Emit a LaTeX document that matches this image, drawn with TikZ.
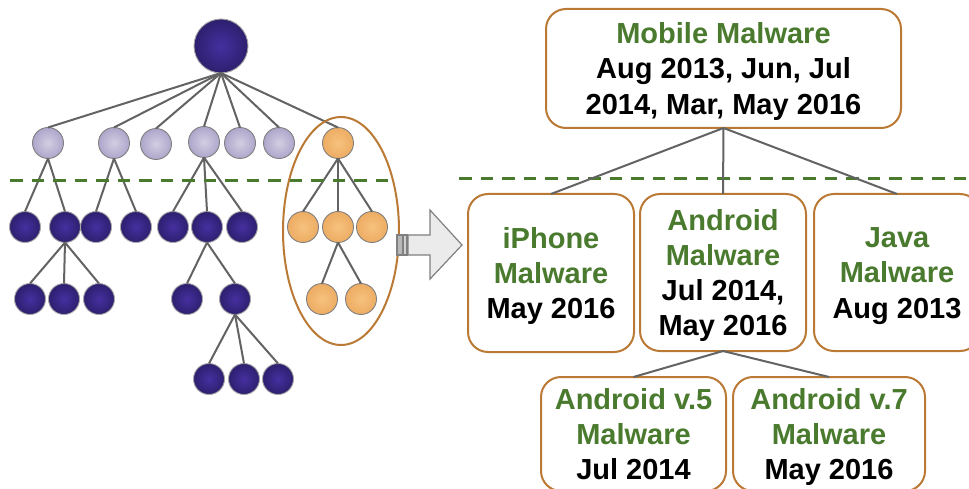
\documentclass[tikz,border=0pt]{standalone}
\usepackage{fontspec}
\setmainfont{Liberation Sans}
\definecolor{boxline}{HTML}{BA7A35}
\definecolor{grn}{HTML}{4A7A2E}
\definecolor{edgegrey}{HTML}{636363}
\definecolor{HTML4530A0}{HTML}{4530A0}
\definecolor{HTML2E1F6E}{HTML}{2E1F6E}
\definecolor{HTMLD2CEE2}{HTML}{D2CEE2}
\definecolor{HTMLAEA6CB}{HTML}{AEA6CB}
\definecolor{HTMLF6C27E}{HTML}{F6C27E}
\definecolor{HTMLEDAC63}{HTML}{EDAC63}
\tikzset{
 x=1pt,y=-1pt,
 ball/.style={circle,inner sep=0pt,outer sep=0pt,minimum size=31pt,draw=#1,line width=0.9pt},
 dark/.style={ball=gray!70,inner color=HTML4530A0,outer color=HTML2E1F6E},
 lite/.style={ball=gray,inner color=HTMLD2CEE2,outer color=HTMLAEA6CB},
 orng/.style={ball=gray,inner color=HTMLF6C27E,outer color=HTMLEDAC63},
 rbox/.style={draw=boxline,line width=2pt,rounded corners=20pt,fill=white,inner sep=0pt,outer sep=0pt,
   align=center,font=\fontsize{29}{35.3}\selectfont\bfseries},
 edge/.style={draw=edgegrey,line width=2pt},
 gdash/.style={draw=grn,line width=3pt,dash pattern=on 12.5pt off 9pt},
}
\newcommand{\gr}[1]{\textcolor{grn}{#1}}
\newcommand{\fst}{\rule{0pt}{27pt}}
\newcommand{\lst}{\rule[-6pt]{0pt}{6pt}}
\begin{document}
\begin{tikzpicture}
\useasboundingbox (0,0) rectangle (969,489);
\fill[white] (0,0) rectangle (969,489);
\clip (0,0) rectangle (969,489);
% left tree nodes
\node[dark,minimum size=54pt] (root) at (221,46) {};
\foreach \n/\x/\y in {a/48/143,b/114/143,c/156/144,d/204/142,e/240/143,f/279/143}
  \node[lite] (\n) at (\x,\y) {};
\node[orng] (g) at (338,143) {};
\foreach \n/\x/\y in {a1/25/227,a2/65/227,b1/96/227,b2/136/227,d1/173/227,d2/207/227,d3/242/227,
  a21/30/299,a22/64/299,a23/99/299,d21/187/299,d22/235/299,m1/209/379,m2/244/379,m3/278/379}
  \node[dark] (\n) at (\x,\y) {};
\foreach \n/\x/\y in {g1/303/227,g2/338/227,g3/372/227,g21/322/299,g22/361/299}
  \node[orng] (\n) at (\x,\y) {};
% left tree edges
\foreach \c in {a,b,c,d,e,f,g} \draw[edge] (root.south) -- (\c.north);
\foreach \p/\c in {a/a1,a/a2,b/b1,b/b2,d/d1,d/d2,d/d3,g/g1,g/g2,g/g3,
  a2/a21,a2/a22,a2/a23,d2/d21,d2/d22,d22/m1,d22/m2,d22/m3,g2/g21,g2/g22}
  \draw[edge] (\p.south) -- (\c.north);
% highlight ellipse
\draw[draw=boxline,line width=2pt] (341,231) ellipse [x radius=58,y radius=114];
% dashed level lines
\coordinate (dl1) at (10,181); \coordinate (dl2) at (392,181);
\coordinate (dr1) at (459,179); \coordinate (dr2) at (969,179);
\draw[gdash] (dl1) -- (dl2);
\draw[gdash] (dr1) -- (dr2);
% block arrow
\draw[draw=gray,line width=1.2pt,fill=black!8,line join=miter]
  (408,235) -- (430,235) -- (430,210) -- (462,245) -- (430,279) -- (430,255) -- (408,255) -- cycle;
\draw[draw=gray,line width=1.2pt,fill=black!28] (397,235) rectangle (403,255);
\draw[draw=gray,line width=1.2pt,fill=black!18] (403,235) rectangle (407,255);
% right tree
\node[rbox,minimum width=355pt,minimum height=119pt] (mob) at (723.5,68.5)
  {\fst\gr{Mobile Malware}\\Aug 2013, Jun, Jul\\2014, Mar, May 2016\lst};
\node[rbox,minimum width=166pt,minimum height=158pt] (iph) at (551,273)
  {\fst\gr{iPhone}\\\gr{Malware}\\May 2016\lst};
\node[rbox,minimum width=166pt,minimum height=157pt] (and) at (723,272.5)
  {\fst\gr{Android}\\\gr{Malware}\\Jul 2014,\\May 2016\lst};
\node[rbox,minimum width=166pt,minimum height=157pt] (jav) at (897,272.5)
  {\fst\gr{Java}\\\gr{Malware}\\Aug 2013\lst};
\node[rbox,minimum width=185pt,minimum height=114pt] (v5) at (633.5,434)
  {\fst\gr{Android v.5}\\\gr{Malware}\\Jul 2014\lst};
\node[rbox,minimum width=192pt,minimum height=114pt] (v7) at (829,434)
  {\fst\gr{Android v.7}\\\gr{Malware}\\May 2016\lst};
\foreach \c in {iph,and,jav} \draw[edge] (mob.south) -- (\c.north);
\foreach \c in {v5,v7} \draw[edge] (and.south) -- (\c.north);
\end{tikzpicture}
\end{document}
